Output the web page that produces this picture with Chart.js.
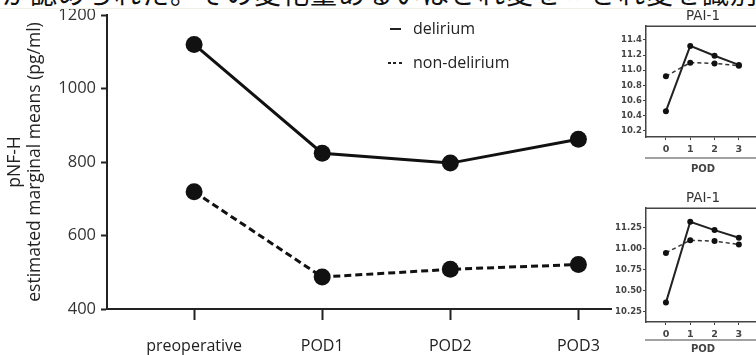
<!DOCTYPE html>
<html>
<head>
<meta charset="utf-8">
<script src="https://cdn.jsdelivr.net/npm/chart.js@4.4.1/dist/chart.umd.min.js"></script>
<style>
  body { margin: 0; background: #fff; }
  #wrap { position: relative; width: 756px; height: 355px; overflow: hidden; background: #fff; }
  #main { position: absolute; left: 0; top: 0; }
  .inset { position: absolute; left: 612px; width: 144px; overflow: hidden; background: #fff; }
  .inset canvas { position: absolute; left: 0; top: 0; }
  .legend { position: absolute; left: 390px; font-family: "Open Sans"; font-size: 16px; color: #222; }
  .legend i { position: absolute; left: 0; top: 11px; width: 11px; height: 2px; background: #222; }
  .legend i.dash { left: -2px; width: 14px; background: repeating-linear-gradient(90deg, #222 0 3px, transparent 3px 5.5px); }
  .legend span { position: absolute; left: 23px; top: 0; white-space: nowrap; }
</style>
</head>
<body>
<div id="wrap">
  <canvas id="main" width="756" height="355"></canvas>
  <div style="position:absolute;left:0;top:0;width:756px;height:8px;overflow:hidden;clip-path:inset(0 0 0 0);border-bottom:1px solid #f1efe8;z-index:5;background:#fff">
    <div style="margin-top:-21px;margin-left:2px;font-family:'Noto Sans CJK JP';font-size:27px;line-height:27px;color:#111;white-space:nowrap;letter-spacing:1px">が認められた。その変化量あるいはされ変を〃され変を識別でき</div>
  </div>
  <div class="legend" style="top:17px"><i></i><span>delirium</span></div>
  <div class="legend" style="top:51px"><i class="dash"></i><span>non-delirium</span></div>
  <div class="inset" style="top:9px;height:166px"><canvas id="paiTop" width="154" height="166"></canvas></div>
  <div class="inset" style="top:180px;height:175px"><canvas id="paiBottom" width="154" height="175"></canvas></div>
</div>
<script>
'use strict';

// ***** DATA *****

let categories = ['preoperative', 'POD1', 'POD2', 'POD3'];
let delirium = [1120, 824, 797, 862];
let nonDelirium = [719, 487, 508, 521];
let yTicks = [400, 600, 800, 1000, 1200];

let podTicks = ['0', '1', '2', '3'];
let paiTopDelirium = [10.46, 11.32, 11.19, 11.07];
let paiTopNonDelirium = [10.92, 11.10, 11.09, 11.06];
let paiTopTicks = [10.2, 10.4, 10.6, 10.8, 11.0, 11.2, 11.4];
let paiBottomDelirium = [10.36, 11.32, 11.22, 11.13];
let paiBottomNonDelirium = [10.95, 11.10, 11.09, 11.05];
let paiBottomTicks = [10.25, 10.50, 10.75, 11.00, 11.25];

// ***** HELPERS *****

function toPoints(values) {
    return values.map((v, i) => ({ x: i, y: v }));
}

function fixedTicks(list) {
    return function (scale) {
        scale.ticks = list.map(v => ({ value: v }));
    };
}

// ***** MAIN CHART *****

let ink = '#222';

new Chart(document.getElementById('main'), {
    type: 'line',
    data: {
        datasets: [
            {
                label: 'delirium',
                data: toPoints(delirium),
                borderColor: '#111',
                backgroundColor: '#111',
                borderWidth: 3,
                pointRadius: 8.5,
                pointBorderWidth: 0
            },
            {
                label: 'non-delirium',
                data: toPoints(nonDelirium),
                borderColor: '#111',
                backgroundColor: '#111',
                borderWidth: 3,
                borderDash: [7, 4],
                pointRadius: 8.5,
                pointBorderWidth: 0
            }
        ]
    },
    options: {
        responsive: false,
        animation: false,
        layout: { padding: { top: 15, right: 143, left: 0, bottom: 0 } },
        plugins: { legend: { display: false }, tooltip: { enabled: false } },
        scales: {
            x: {
                type: 'linear',
                min: -0.68,
                max: 3.27,
                afterBuildTicks: fixedTicks([0, 1, 2, 3]),
                afterFit: scale => { scale.height = 46; },
                border: { color: ink, width: 2 },
                grid: { drawOnChartArea: false, tickLength: 11, tickColor: ink, tickWidth: 2 },
                ticks: {
                    padding: 17,
                    color: '#222',
                    font: { family: 'Open Sans', size: 16 },
                    callback: v => categories[v]
                }
            },
            y: {
                min: 400,
                max: 1200,
                afterBuildTicks: fixedTicks(yTicks),
                afterFit: scale => { scale.width = 107; },
                border: { color: ink, width: 2 },
                grid: { drawOnChartArea: false, tickLength: 6, tickColor: ink, tickWidth: 2 },
                ticks: {
                    padding: 5,
                    color: '#333',
                    font: { family: 'Open Sans', size: 16.5 },
                    callback: v => String(v)
                },
                title: {
                    display: true,
                    text: ['pNF-H', 'estimated marginal means (pg/ml)'],
                    color: '#222',
                    padding: { top: 5, bottom: 0 },
                    font: { family: 'Open Sans', size: 17.5, lineHeight: 1.15 }
                }
            }
        }
    }
});

// ***** PAI-1 INSETS *****

function insetChart(id, solid, dashed, ticks, yMin, yMax, digits, titleTop, axisHeight, podGap) {
    return new Chart(document.getElementById(id), {
        type: 'line',
        data: {
            datasets: [
                { data: toPoints(solid), borderColor: '#222', backgroundColor: '#111', borderWidth: 2, pointRadius: 3, pointBorderWidth: 0 },
                { data: toPoints(dashed), borderColor: '#333', backgroundColor: '#111', borderWidth: 1.5, borderDash: [4, 3], pointRadius: 3, pointBorderWidth: 0 }
            ]
        },
        options: {
            responsive: false,
            animation: false,
            layout: { padding: { top: 0, right: 6, left: 0, bottom: 0 } },
            plugins: {
                legend: { display: false },
                tooltip: { enabled: false },
                title: {
                    display: true,
                    text: 'PAI-1',
                    fullSize: false,
                    color: '#333',
                    padding: { top: titleTop, bottom: 2 },
                    font: { family: 'DejaVu Sans', size: 13.5, weight: 'normal', lineHeight: 1.2 }
                }
            },
            scales: {
                x: {
                    type: 'linear',
                    min: -0.82,
                    max: 3.87,
                    afterBuildTicks: fixedTicks([0, 1, 2, 3]),
                    afterFit: scale => { scale.height = axisHeight; },
                    border: { color: '#444', width: 1.5 },
                    grid: { drawOnChartArea: false, tickLength: 3, tickColor: '#444' },
                    ticks: {
                        padding: 4,
                        color: '#444',
                        font: { family: 'DejaVu Sans', size: 9.5, weight: 'bold' },
                        callback: v => podTicks[v]
                    },
                    title: {
                        display: true,
                        text: 'POD',
                        color: '#444',
                        padding: { top: 3, bottom: 0 },
                        font: { family: 'DejaVu Sans', size: 10, weight: 'bold' }
                    }
                },
                y: {
                    min: yMin,
                    max: yMax,
                    afterBuildTicks: fixedTicks(ticks),
                    afterFit: scale => { scale.width = 34; },
                    border: { color: '#444', width: 1.5 },
                    grid: { drawOnChartArea: false, tickLength: 3, tickColor: '#444' },
                    ticks: {
                        padding: 1,
                        color: '#444',
                        font: { family: 'DejaVu Sans', size: 8.5, weight: 'bold' },
                        callback: v => v.toFixed(digits)
                    }
                }
            }
        },
        plugins: [{
            id: 'boxAndRule',
            afterDraw(chart) {
                let a = chart.chartArea;
                let c = chart.ctx;
                c.save();
                c.strokeStyle = '#444';
                c.lineWidth = 1.5;
                c.beginPath();
                c.moveTo(a.left, a.top);
                c.lineTo(a.right, a.top);
                c.lineTo(a.right, a.bottom);
                c.stroke();
                c.lineWidth = 1.2;
                c.beginPath();
                c.moveTo(a.left - 1, a.bottom + podGap);
                c.lineTo(chart.width, a.bottom + podGap);
                c.stroke();
                c.restore();
            }
        }]
    });
}

insetChart('paiTop', paiTopDelirium, paiTopNonDelirium, paiTopTicks, 10.12, 11.58, 1, -1, 38, 21);
insetChart('paiBottom', paiBottomDelirium, paiBottomNonDelirium, paiBottomTicks, 10.13, 11.48, 2, 10, 33, 18);
</script>
</body>
</html>
